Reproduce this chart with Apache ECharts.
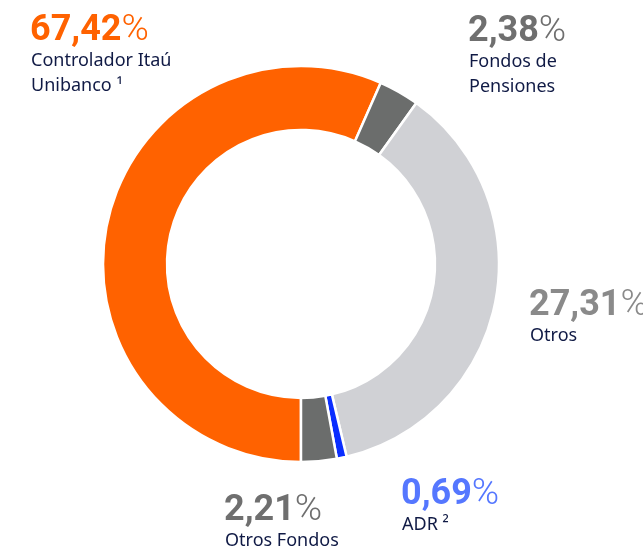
<!DOCTYPE html>
<html>
<head>
<meta charset="utf-8">
<script src="https://cdn.jsdelivr.net/npm/echarts@6/dist/echarts.min.js"></script>
<style>
  html, body { margin: 0; padding: 0; background: #fff; }
  #main { width: 643px; height: 551px; }
</style>
</head>
<body>
<div id="main"></div>
<script>
// composition of shareholders
var names = ['Controlador Itaú\nUnibanco ¹', 'Fondos de\nPensiones', 'Otros', 'ADR ²', 'Otros Fondos'];
var percents = [67.42, 2.38, 27.31, 0.69, 2.21];
// the ring in the picture is not drawn to the printed percentages,
// so these are the arc shares measured off the slices
var arcShares = [56.6, 3.3, 36.4, 0.8, 2.9];

var sliceColors = ['#ff6200', '#6b6d6c', '#d0d1d5', '#0a2dff', '#6b6d6c'];
var numColors = ['#ff6200', '#6f6f6f', '#8a8a8a', '#5577ff', '#6f6f6f'];
// label anchors (left, top of the number)
var labelPos = [[30, 13], [468, 14], [529, 288], [401, 477], [224, 493]];

function fmt(v) {
    return v.toFixed(2).replace('.', ',');
}

var myChart = echarts.init(document.getElementById('main'));

var graphics = [];
for (var i = 0; i < names.length; i++) {
    graphics.push({
        type: 'text',
        left: labelPos[i][0],
        top: labelPos[i][1] - 1,
        style: {
            text: '{n|' + fmt(percents[i]) + '}{p|%}',
            rich: {
                n: { fontFamily: 'Roboto', fontWeight: 'bold', fontSize: 36, fill: numColors[i], lineHeight: 40 },
                p: { fontFamily: 'Roboto', fontWeight: 300, fontSize: 37, fill: numColors[i], lineHeight: 40 }
            }
        }
    });
    graphics.push({
        type: 'text',
        left: labelPos[i][0] + 1,
        top: labelPos[i][1] + 35,
        style: {
            text: names[i],
            fontFamily: 'Noto Sans',
            fontSize: 18,
            lineHeight: 25,
            fill: '#101a45'
        }
    });
}

option = {
    animation: false,
    color: sliceColors,
    graphic: graphics,
    series: [
        {
            type: 'pie',
            center: [301, 264],
            radius: [134, 198],
            startAngle: -90,
            clockwise: true,
            label: { show: false },
            labelLine: { show: false },
            itemStyle: {
                borderColor: '#fff',
                borderWidth: 2.5
            },
            data: arcShares.map(function (v, i) {
                return { value: v, name: names[i] };
            })
        }
    ]
};
myChart.setOption(option);
</script>
</body>
</html>
